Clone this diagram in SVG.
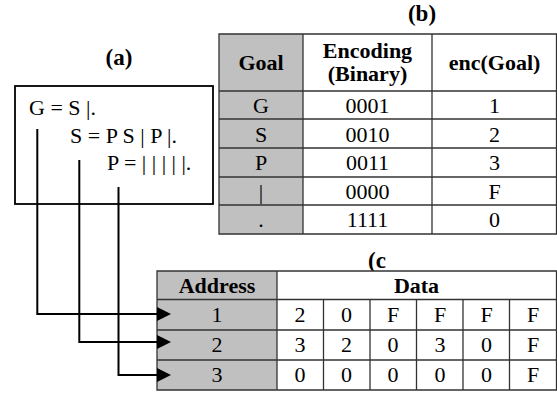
<svg xmlns="http://www.w3.org/2000/svg" width="557" height="394" viewBox="0 0 557 394">
<style>
text{font-family:"Liberation Serif","Times New Roman",serif;font-size:22px;fill:#000;text-anchor:middle}
.b{font-weight:bold}
.lab{font-weight:bold;font-size:23px}
.st{text-anchor:start}
.g{fill:#c0c0c0}
.w{fill:#fff}
.grid{stroke:#333;stroke-width:1.3;fill:none}
.conn{stroke:#000;stroke-width:2;fill:none}
</style>
<defs>
<marker id="ah" markerUnits="userSpaceOnUse" markerWidth="15" markerHeight="15" refX="0" refY="7" orient="auto">
<path d="M0,0 L14,7 L0,14 Z" fill="#000"/>
</marker>
</defs>
<rect width="557" height="394" fill="#fff"/>

<g id="grammar">
<text class="lab" x="119" y="65">(a)</text>
<rect x="15" y="86" width="198" height="118" fill="none" stroke="#000" stroke-width="1.8"/>
<text class="st" x="29" y="115">G = S |.</text>
<text class="st" x="70" y="143">S = P S | P |.</text>
<text class="st" x="107" y="170">P = | | | | |.</text>
</g>

<g id="table-b">
<text class="lab" x="422" y="21">(b)</text>
<rect class="g" x="219" y="34" width="84" height="200"/>
<rect class="w" x="303" y="34" width="254" height="200"/>
<path class="grid" d="M219,34 H556.5 V234 H219 Z M303,34 V234 M432,34 V234 M219,91 H556.5 M219,119 H556.5 M219,148 H556.5 M219,177 H556.5 M219,205 H556.5"/>
<text class="b" x="261" y="70">Goal</text>
<text class="b" x="367.5" y="58">Encoding</text>
<text class="b" x="367.5" y="81">(Binary)</text>
<text class="b" x="494.5" y="70">enc(Goal)</text>
<text x="261" y="113">G</text><text x="367.5" y="113">0001</text><text x="494.5" y="113">1</text>
<text x="261" y="141.5">S</text><text x="367.5" y="141.5">0010</text><text x="494.5" y="141.5">2</text>
<text x="261" y="170">P</text><text x="367.5" y="170">0011</text><text x="494.5" y="170">3</text>
<text x="261" y="198.5">|</text><text x="367.5" y="198.5">0000</text><text x="494.5" y="198.5">F</text>
<text x="261" y="227">.</text><text x="367.5" y="227">1111</text><text x="494.5" y="227">0</text>
</g>

<g id="table-c">
<text class="lab st" x="368" y="268">(c</text>
<rect class="g" x="157" y="271" width="120" height="119"/>
<rect class="w" x="277" y="271" width="280" height="119"/>
<path class="grid" d="M157,271 H556.5 V390 H157 Z M277,271 V390 M157,299.5 H556.5 M157,330 H556.5 M157,360 H556.5 M323.5,299.5 V390 M370,299.5 V390 M416.5,299.5 V390 M463,299.5 V390 M509.5,299.5 V390"/>
<text class="b" x="217" y="293">Address</text>
<text class="b" x="416.5" y="293">Data</text>
<text x="217" y="322">1</text>
<text x="300" y="322">2</text><text x="346.5" y="322">0</text><text x="393" y="322">F</text><text x="440" y="322">F</text><text x="486.5" y="322">F</text><text x="533" y="322">F</text>
<text x="217" y="352">2</text>
<text x="300" y="352">3</text><text x="346.5" y="352">2</text><text x="393" y="352">0</text><text x="440" y="352">3</text><text x="486.5" y="352">0</text><text x="533" y="352">F</text>
<text x="217" y="382">3</text>
<text x="300" y="382">0</text><text x="346.5" y="382">0</text><text x="393" y="382">0</text><text x="440" y="382">0</text><text x="486.5" y="382">0</text><text x="533" y="382">F</text>
</g>

<g id="connectors">
<path class="conn" d="M37.3,129 V314 H157" marker-end="url(#ah)"/>
<path class="conn" d="M79.3,160 V342 H157" marker-end="url(#ah)"/>
<path class="conn" d="M118.5,187 V375 H157" marker-end="url(#ah)"/>
</g>
</svg>
